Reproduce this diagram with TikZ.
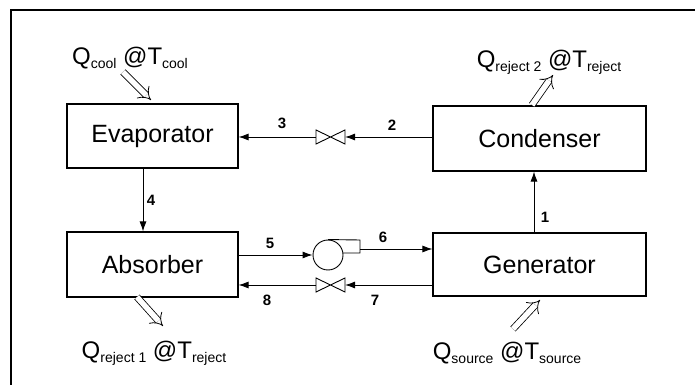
\documentclass[tikz,border=0pt]{standalone}
\usepackage{fontspec}
\setmainfont{Liberation Sans}
\usetikzlibrary{arrows.meta}
\newcommand{\qsub}[1]{\raisebox{-0.15em}{\fontsize{14}{14}\selectfont #1}}
\begin{document}
\begin{tikzpicture}[x=1pt,y=1pt,
  box/.style={draw, line width=1.1pt, minimum width=#1, inner sep=0pt, font=\fontsize{25}{25}\selectfont},
  flow/.style={line width=0.9pt, -{Latex[length=10pt,width=7pt]}},
  plain/.style={line width=0.9pt},
  heat/.style={double, double distance=5.5pt, line width=0.8pt, -{Implies}},
  num/.style={font=\fontsize{15}{15}\selectfont\bfseries, inner sep=0pt},
  qlab/.style={font=\fontsize{24}{24}\selectfont, inner sep=0pt},
  valve/.style={draw, line width=0.9pt, fill=white}]
\useasboundingbox (0,0) rectangle (695,385);
% frame
\draw[line width=1.8pt] (10,375) -- (695,375);
\draw[line width=1.4pt] (11,375) -- (11,0);
% boxes
\node[box=171pt, minimum height=64pt] (evap) at (152.5,249) {Evaporator};
\node[box=213pt, minimum height=65pt] (cond) at (539.5,246.5) {Condenser};
\node[box=171pt, minimum height=65pt] (abs) at (152.5,120.5) {Absorber\hspace{24pt}};
\node[box=213pt, minimum height=63pt] (gen) at (539.5,120.5) {Generator};
% coordinates
\coordinate (c1) at (534,0);
\coordinate (c4) at (143,0);
\coordinate (v1r) at (345,248);
\coordinate (v1l) at (316,248);
\coordinate (v2r) at (345,100);
\coordinate (v2l) at (316,100);
\node[draw, circle, line width=0.9pt, minimum size=30pt, inner sep=0pt] (pump) at (328,130) {};
\coordinate (pout) at (360,136);
% valves
\draw[valve] (316,255) -- (345,241) -- (345,255) -- (316,241) -- cycle;
\draw[valve] (316,107) -- (345,93) -- (345,107) -- (316,93) -- cycle;
% pump outlet
\draw[plain] (pump.north) -- (360,145) -- (360,132) -- (342.9,132);
% flows
\draw[flow] (gen.north -| c1) -- (cond.south -| c1);
\draw[flow] (cond.west |- v1r) -- (v1r);
\draw[flow] (v1l) -- (evap.east |- v1l);
\draw[flow] (evap.south -| c4) -- (abs.north -| c4);
\draw[flow] (abs.east |- pump.west) -- (pump.west);
\draw[flow] (pout) -- (gen.west |- pout);
\draw[flow] (gen.west |- v2r) -- (v2r);
\draw[flow] (v2l) -- (abs.east |- v2l);
% numbers
\node[num] (n1) at (545,168) {1};
\node[num] (n2) at (392,260) {2};
\node[num] (n3) at (282,262) {3};
\node[num] (n4) at (151,185) {4};
\node[num] (n5) at (270,142) {5};
\node[num] (n6) at (383,148) {6};
\node[num] (n7) at (375,85) {7};
\node[num] (n8) at (267,85) {8};
% heat
\coordinate (hc0) at (123,313);
\coordinate (hc1) at (151,285);
\draw[heat] (hc0) -- (hc1);
\node[qlab] (qc) at (130,327) {Q\qsub{cool} @T\qsub{cool}};
\coordinate (hr20) at (532,280);
\coordinate (hr21) at (553,310);
\draw[heat] (hr20) -- (hr21);
\node[qlab] (qr2) at (549,323) {Q\qsub{reject 2} @T\qsub{reject}};
\coordinate (hr10) at (137,88);
\coordinate (hr11) at (163,59);
\draw[heat] (hr10) -- (hr11);
\node[qlab] (qr1) at (154,32) {Q\qsub{reject 1} @T\qsub{reject}};
\coordinate (hs0) at (513,56);
\coordinate (hs1) at (540,85);
\draw[heat] (hs0) -- (hs1);
\node[qlab] (qs) at (507,32) {Q\qsub{source} @T\qsub{source}};
\end{tikzpicture}
\end{document}
